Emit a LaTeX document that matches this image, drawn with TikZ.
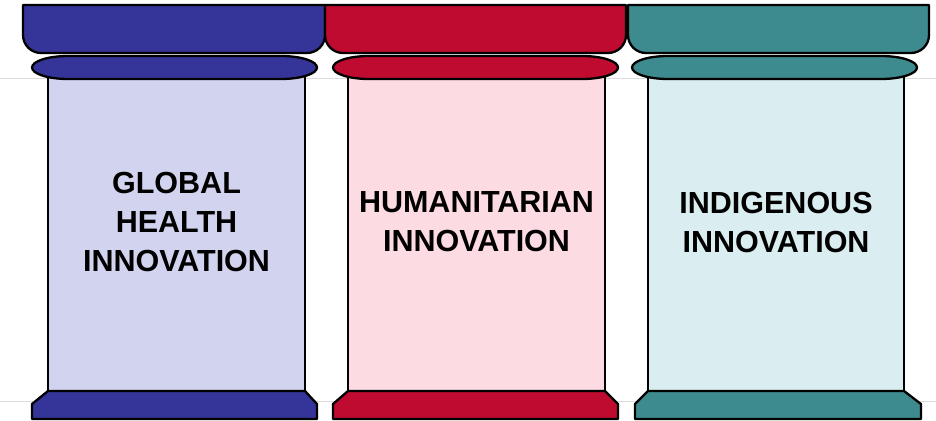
\documentclass[tikz,border=0pt]{standalone}
\usepackage{fontspec}
\setmainfont{Liberation Sans}
\definecolor{blueD}{HTML}{353599}
\definecolor{blueL}{HTML}{D2D3EF}
\definecolor{redD}{HTML}{BE0B2F}
\definecolor{redL}{HTML}{FCDBE2}
\definecolor{tealD}{HTML}{3D8B8F}
\definecolor{tealL}{HTML}{DAEDF0}
\definecolor{gridgray}{HTML}{DCDCDC}
\tikzset{
  part/.style={draw=black, line width=2.3pt, line join=round},
  label/.style={font=\bfseries\fontsize{30.5}{39}\selectfont, align=center, text=black, inner sep=0pt},
}
% #1 cap left, #2 cap right, #3 ring left, #4 ring right, #5 body left, #6 body right, #7 base left, #8 base right, #9 colour name
\newcommand\pillarshape[9]{%
  % body
  \path[part, fill=#9L] (#5,70) rectangle (#6,392);
  % base
  \path[part, fill=#9D] (#5,391) -- (#6,391) -- (#8,404) -- (#8,419) -- (#7,419) -- (#7,404) -- cycle;
  % ring
  \path[part, fill=#9D] ({#3+36},56) -- ({#4-36},56)
      arc[start angle=-90, end angle=90, x radius=36, y radius=11.5]
      -- ({#3+36},79)
      arc[start angle=90, end angle=270, x radius=36, y radius=11.5] -- cycle;
  % cap
  \path[part, fill=#9D] (#1,5) -- (#2,5) -- (#2,35)
      arc[start angle=0, end angle=90, radius=18]
      -- ({#1+18},53)
      arc[start angle=90, end angle=180, radius=18] -- cycle;
}
\begin{document}
\begin{tikzpicture}[x=1pt,y=-1pt]
\useasboundingbox (0,0) rectangle (936,420);
\fill[white] (0,0) rectangle (936,420);
\draw[gridgray, line width=0.8pt] (0,78) -- (936,78);
\draw[gridgray, line width=0.8pt] (0,401) -- (936,401);
\pillarshape{23}{325}{32}{317}{48}{305}{32}{317}{blue}
\pillarshape{325}{626}{333}{618}{348}{605}{333}{618}{red}
\pillarshape{628}{929}{632}{917}{648}{904}{635}{921}{teal}
\node[label] (global) at (176.5,222) {GLOBAL\\HEALTH\\INNOVATION};
\node[label] (human) at (476.5,222) {HUMANITARIAN\\INNOVATION};
\node[label] (indig) at (776,222) {INDIGENOUS\\INNOVATION};
\end{tikzpicture}
\end{document}
